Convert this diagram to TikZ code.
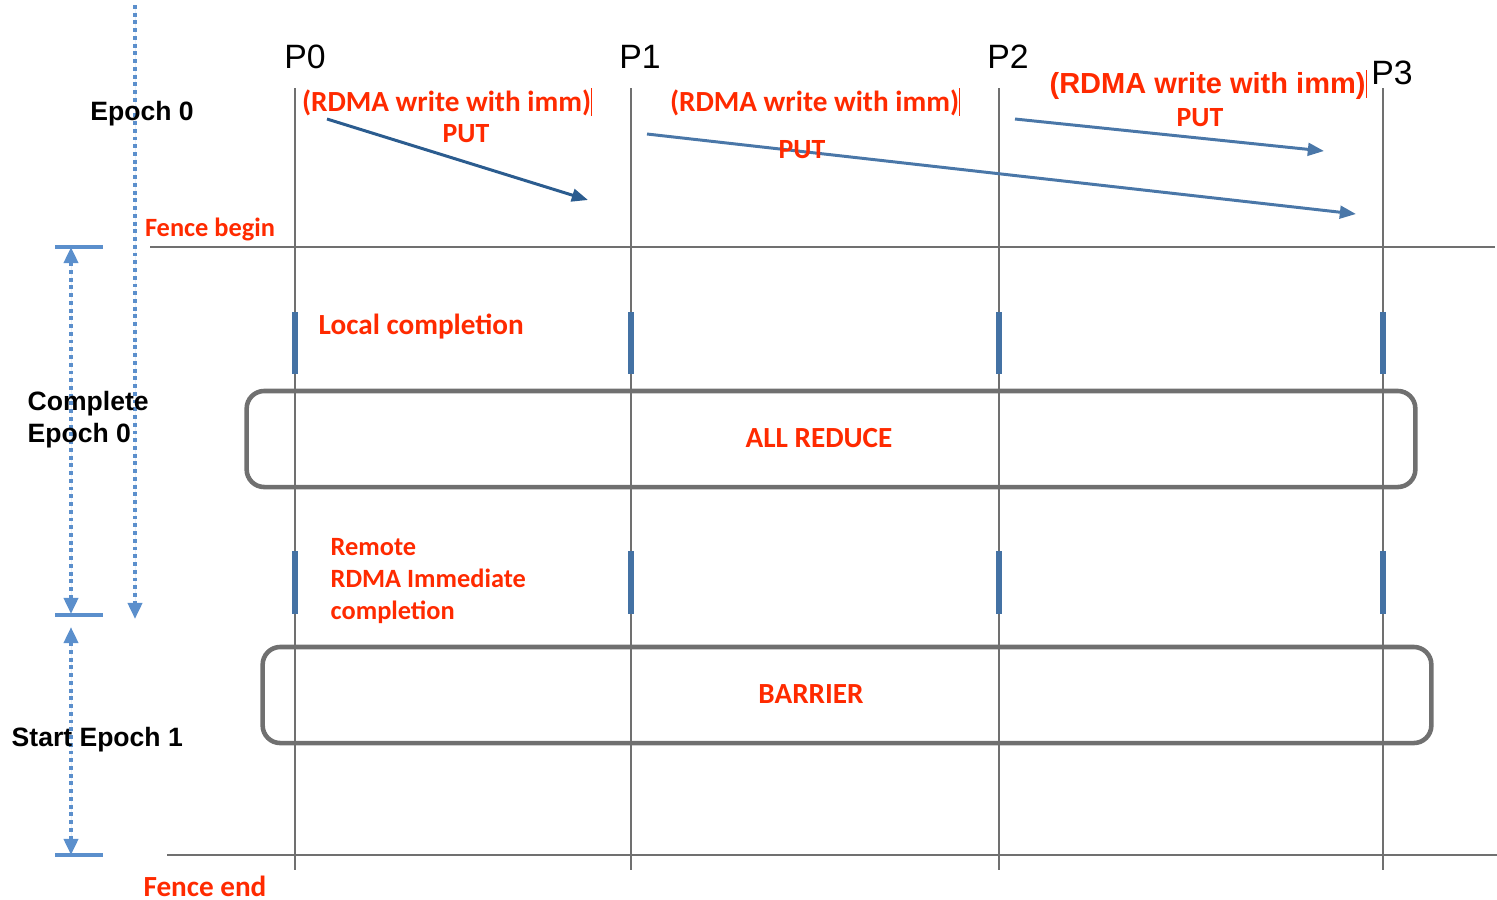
\documentclass[tikz,border=0pt]{standalone}
\usepackage{fontspec}
\setmainfont{Liberation Sans}
\newfontfamily\calfont{Carlito}
\usetikzlibrary{arrows.meta}
\definecolor{fred}{HTML}{FF2A00}
\definecolor{lgray}{HTML}{707070}
\definecolor{dotblue}{HTML}{5B8FCC}
\definecolor{darrow}{HTML}{2B5C8F}
\definecolor{arrowblue}{HTML}{4A77A8}
\definecolor{segblue}{HTML}{4472A4}
\tikzset{
  lifeline/.style={draw=lgray, line width=0.8pt},
  fenceline/.style={draw=lgray, line width=0.8pt},
  seg/.style={draw=segblue, line width=1.7pt},
  boxstyle/.style={draw=lgray, line width=1.3pt, rounded corners=5pt, inner sep=0pt},
  msg/.style={line width=0.85pt, -{Triangle[length=4.6pt,width=3.6pt]}},
  dotline/.style={draw=dotblue, line width=1.1pt, dash pattern=on 1.1pt off 1.1pt},
  dimtip/.style={-{Triangle[length=4.6pt,width=4pt]}},
  tick/.style={draw=dotblue, line width=0.9pt},
  pname/.style={font=\fontsize{9.6pt}{11pt}\selectfont, text=black, inner sep=0pt},
  blk/.style={font=\fontsize{7.55pt}{9.1pt}\selectfont\bfseries, text=black, inner sep=0pt},
  redc/.style={font=\calfont\fontsize{8.3pt}{9.1pt}\selectfont\bfseries, text=fred, inner sep=0pt},
  redsmall/.style={font=\calfont\fontsize{7.5pt}{9.1pt}\selectfont\bfseries, text=fred, inner sep=0pt},
  redput/.style={font=\calfont\fontsize{7.9pt}{9.1pt}\selectfont\bfseries, text=fred, inner sep=0pt},
  reda/.style={font=\fontsize{8.25pt}{9.5pt}\selectfont\bfseries, text=fred, inner sep=0pt},
}
\begin{document}
\begin{tikzpicture}[x=0.01cm,y=-0.01cm]
\useasboundingbox (0,0) rectangle (1497,899);

% lifelines
\coordinate (p0t) at (295,88);  \coordinate (p0b) at (295,870);
\coordinate (p1t) at (631,88);  \coordinate (p1b) at (631,870);
\coordinate (p2t) at (999,88);  \coordinate (p2b) at (999,870);
\coordinate (p3t) at (1383,88); \coordinate (p3b) at (1383,870);
\foreach \p in {p0,p1,p2,p3} { \draw[lifeline] (\p t) -- (\p b); }

% fence lines
\coordinate (fb1) at (150,247); \coordinate (fb2) at (1495,247);
\coordinate (fe1) at (167,855); \coordinate (fe2) at (1497,855);
\draw[fenceline] (fb1) -- (fb2);
\draw[fenceline] (fe1) -- (fe2);

% process names
\node[pname] (P0) at (305,57) {P0};
\node[pname] (P1) at (640,57) {P1};
\node[pname] (P2) at (1008,57) {P2};
\node[pname] (P3) at (1392,73) {P3};

% completion segments
\foreach \x/\n in {295/a,631/b,999/c,1383/d} {
  \coordinate (l\n1) at (\x,312); \coordinate (l\n2) at (\x,374);
  \draw[seg] (l\n1) -- (l\n2);
  \coordinate (r\n1) at (\x,551); \coordinate (r\n2) at (\x,614);
  \draw[seg] (r\n1) -- (r\n2);
}

% boxes
\node[boxstyle, minimum width=11.68cm, minimum height=0.96cm] (allreduce) at (831,439) {};
\node[boxstyle, minimum width=11.68cm, minimum height=0.96cm] (barrier) at (847,695) {};
\node[redc] (arlabel) at (819,438) {ALL REDUCE};
\node[redc] (barlabel) at (811,694) {BARRIER};

% messages
\coordinate (m0s) at (327,119); \coordinate (m0e) at (588,200);
\coordinate (m1s) at (647,134); \coordinate (m1e) at (1356,214);
\coordinate (m2s) at (1015,119); \coordinate (m2e) at (1324,151);
\draw[msg, draw=darrow, fill=darrow] (m0s) -- (m0e);
\draw[msg, draw=arrowblue, fill=arrowblue] (m1s) -- (m1e);
\draw[msg, draw=arrowblue, fill=arrowblue] (m2s) -- (m2e);

% red labels
\node[redc] (w0) at (447,102) {(RDMA write with imm)\rule[-0.15em]{0.25pt}{0.95em}};
\node[redput] (put0) at (466,134) {PUT};
\node[redc] (w1) at (815,102) {(RDMA write with imm)\rule[-0.15em]{0.25pt}{0.95em}};
\node[redput] (put1) at (802,150) {PUT};
\node[reda] (w2) at (1208,85) {(RDMA write with imm)\rule[-0.15em]{0.25pt}{0.95em}};
\node[redput] (put2) at (1200,118) {PUT};
\node[redsmall] (fbegin) at (210,229) {Fence begin};
\node[redc, anchor=west] (local) at (318,327) {Local completion};
\node[redsmall, anchor=west, align=left] (remote) at (330,581) {Remote\\RDMA Immediate\\completion};
\node[redc] (fend) at (205,886) {Fence end};

% epoch dotted arrow
\coordinate (e0t) at (135,5); \coordinate (e0b) at (135,619);
\draw[dotline, dimtip, fill=dotblue] (e0t) -- (e0b);

% dimension arrows
\coordinate (d1t) at (71,247); \coordinate (d1b) at (71,614);
\coordinate (d2t) at (71,627); \coordinate (d2b) at (71,855);
\draw[dotline, {Triangle[length=4.6pt,width=4pt]}-{Triangle[length=4.6pt,width=4pt]}, fill=dotblue] (d1t) -- (d1b);
\draw[dotline, {Triangle[length=4.6pt,width=4pt]}-{Triangle[length=4.6pt,width=4pt]}, fill=dotblue] (d2t) -- (d2b);
\coordinate (t1a) at (55,247); \coordinate (t1b) at (103,247);
\coordinate (t2a) at (55,615); \coordinate (t2b) at (103,615);
\coordinate (t3a) at (55,855); \coordinate (t3b) at (103,855);
\draw[tick] (t1a) -- (t1b);
\draw[tick] (t2a) -- (t2b);
\draw[tick] (t3a) -- (t3b);

% black labels
\node[blk] (ep0) at (142,114) {Epoch 0};
\node[blk, anchor=west, align=left] (cep0) at (27,420) {Complete\\Epoch 0};
\node[blk, anchor=west] (sep1) at (11,740) {Start Epoch 1};
\end{tikzpicture}
\end{document}
